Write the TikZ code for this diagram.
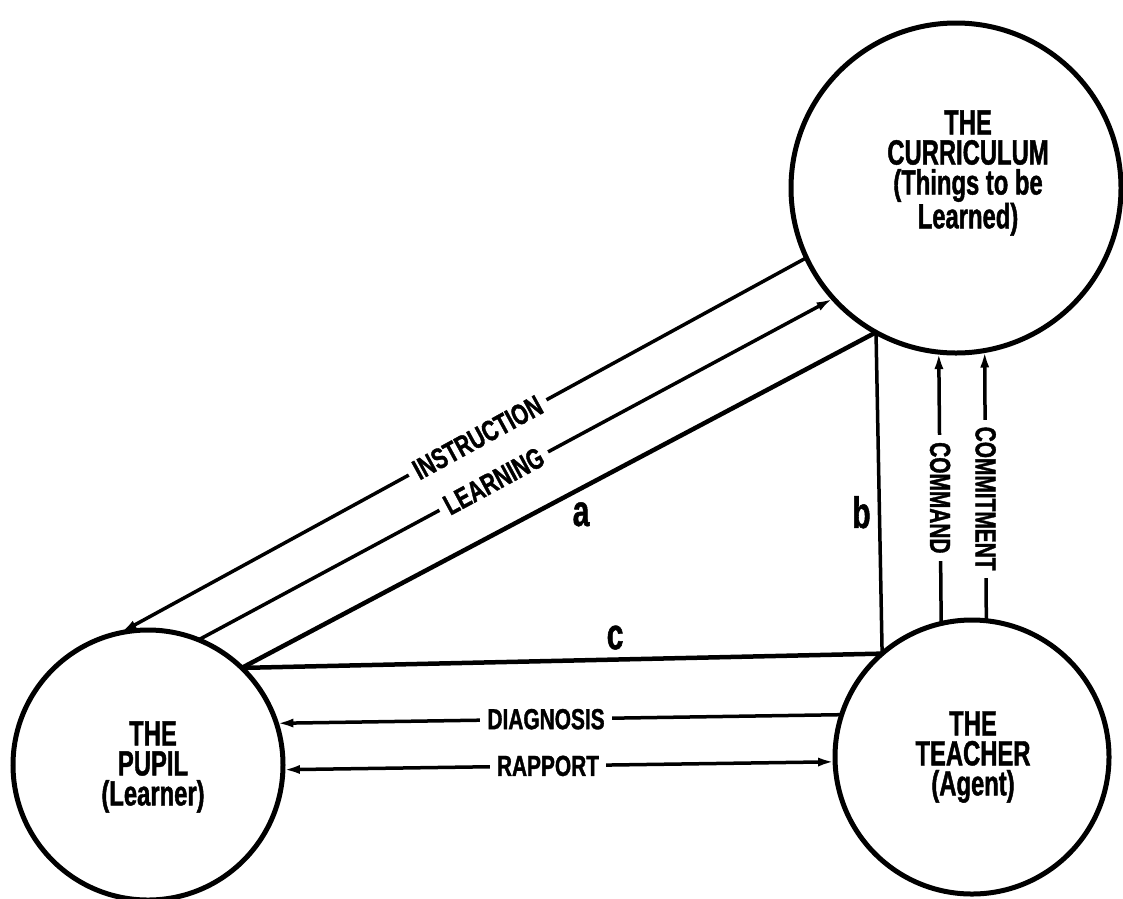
\documentclass[tikz,border=0pt]{standalone}
\usepackage{fontspec}
\newfontfamily\titlefont[FakeStretch=0.68,FakeBold=1.2]{Liberation Sans}
\newfontfamily\labelfont[FakeStretch=0.72,FakeBold=1.2]{Liberation Sans}
\usetikzlibrary{arrows.meta}
\begin{document}
\begin{tikzpicture}[x=1pt,y=-1pt,
  place/.style={circle,draw,line width=5pt,inner sep=0pt,outer sep=0pt},
  title/.style={align=center,font=\titlefont\bfseries\fontsize{35}{30}\selectfont},
  link/.style={line width=3.5pt},
  heavy/.style={line width=4.5pt},
  tip/.style={-{Latex[length=17pt,width=9pt]}},
  twotip/.style={{Latex[length=17pt,width=9pt]}-{Latex[length=17pt,width=9pt]}},
  lbl/.style={fill=white,inner xsep=7pt,inner ysep=0pt,font=\labelfont\bfseries\fontsize{29}{29}\selectfont},
  side/.style={font=\titlefont\bfseries\fontsize{44}{44}\selectfont}]
\useasboundingbox (0,0) rectangle (1123,898);
\fill[white] (0,0) rectangle (1123,898);

% the three parties
\node[place,minimum size=330pt] (curr) at (956,188) {};
\node[place,minimum size=270pt] (pupil) at (148,765) {};
\node[place,minimum size=274pt] (teacher) at (972,757) {};

\node[title] (currtext) at (968,173) {THE\\CURRICULUM\\(Things to be\\Learned)};
\node[title] (pupiltext) at (153,767) {THE\\PUPIL\\(Learner)};
\node[title] (teachertext) at (973,757) {THE\\TEACHER\\(Agent)};

% curriculum -- pupil
\draw[link,tip] (curr.205.8) -- node[lbl,sloped,pos=0.479] {INSTRUCTION} (pupil.102.5);
\draw[link,tip] (pupil.68.5) -- node[lbl,sloped,pos=0.465] {LEARNING} (curr.222.8);

% the triangle a, b, c
\draw[heavy] (pupil.46.5) -- node[side,pos=0.535,yshift=-26pt] {a} (curr.241.4);
\draw[link] (curr.241.4) -- node[side,pos=0.56,xshift=-18pt] {b} (teacher.131.1);
\draw[heavy] (pupil.46.5) -- node[side,pos=0.583,yshift=22pt] {c} (teacher.131.1);

% teacher -- curriculum
\draw[link,tip] (teacher.103.5) -- node[lbl,rotate=-90,pos=0.463] {COMMAND} (curr.264);
\draw[link,tip] (teacher.84.6) -- node[lbl,rotate=-90,pos=0.452] {COMMITMENT} (curr.280);

% teacher -- pupil
\draw[link,tip] (teacher.162.3) -- node[lbl,pos=0.523] {DIAGNOSIS} (pupil.18);
\draw[link,twotip] (pupil.-2) -- node[lbl,pos=0.48] {RAPPORT} (teacher.182.5);
\end{tikzpicture}
\end{document}
